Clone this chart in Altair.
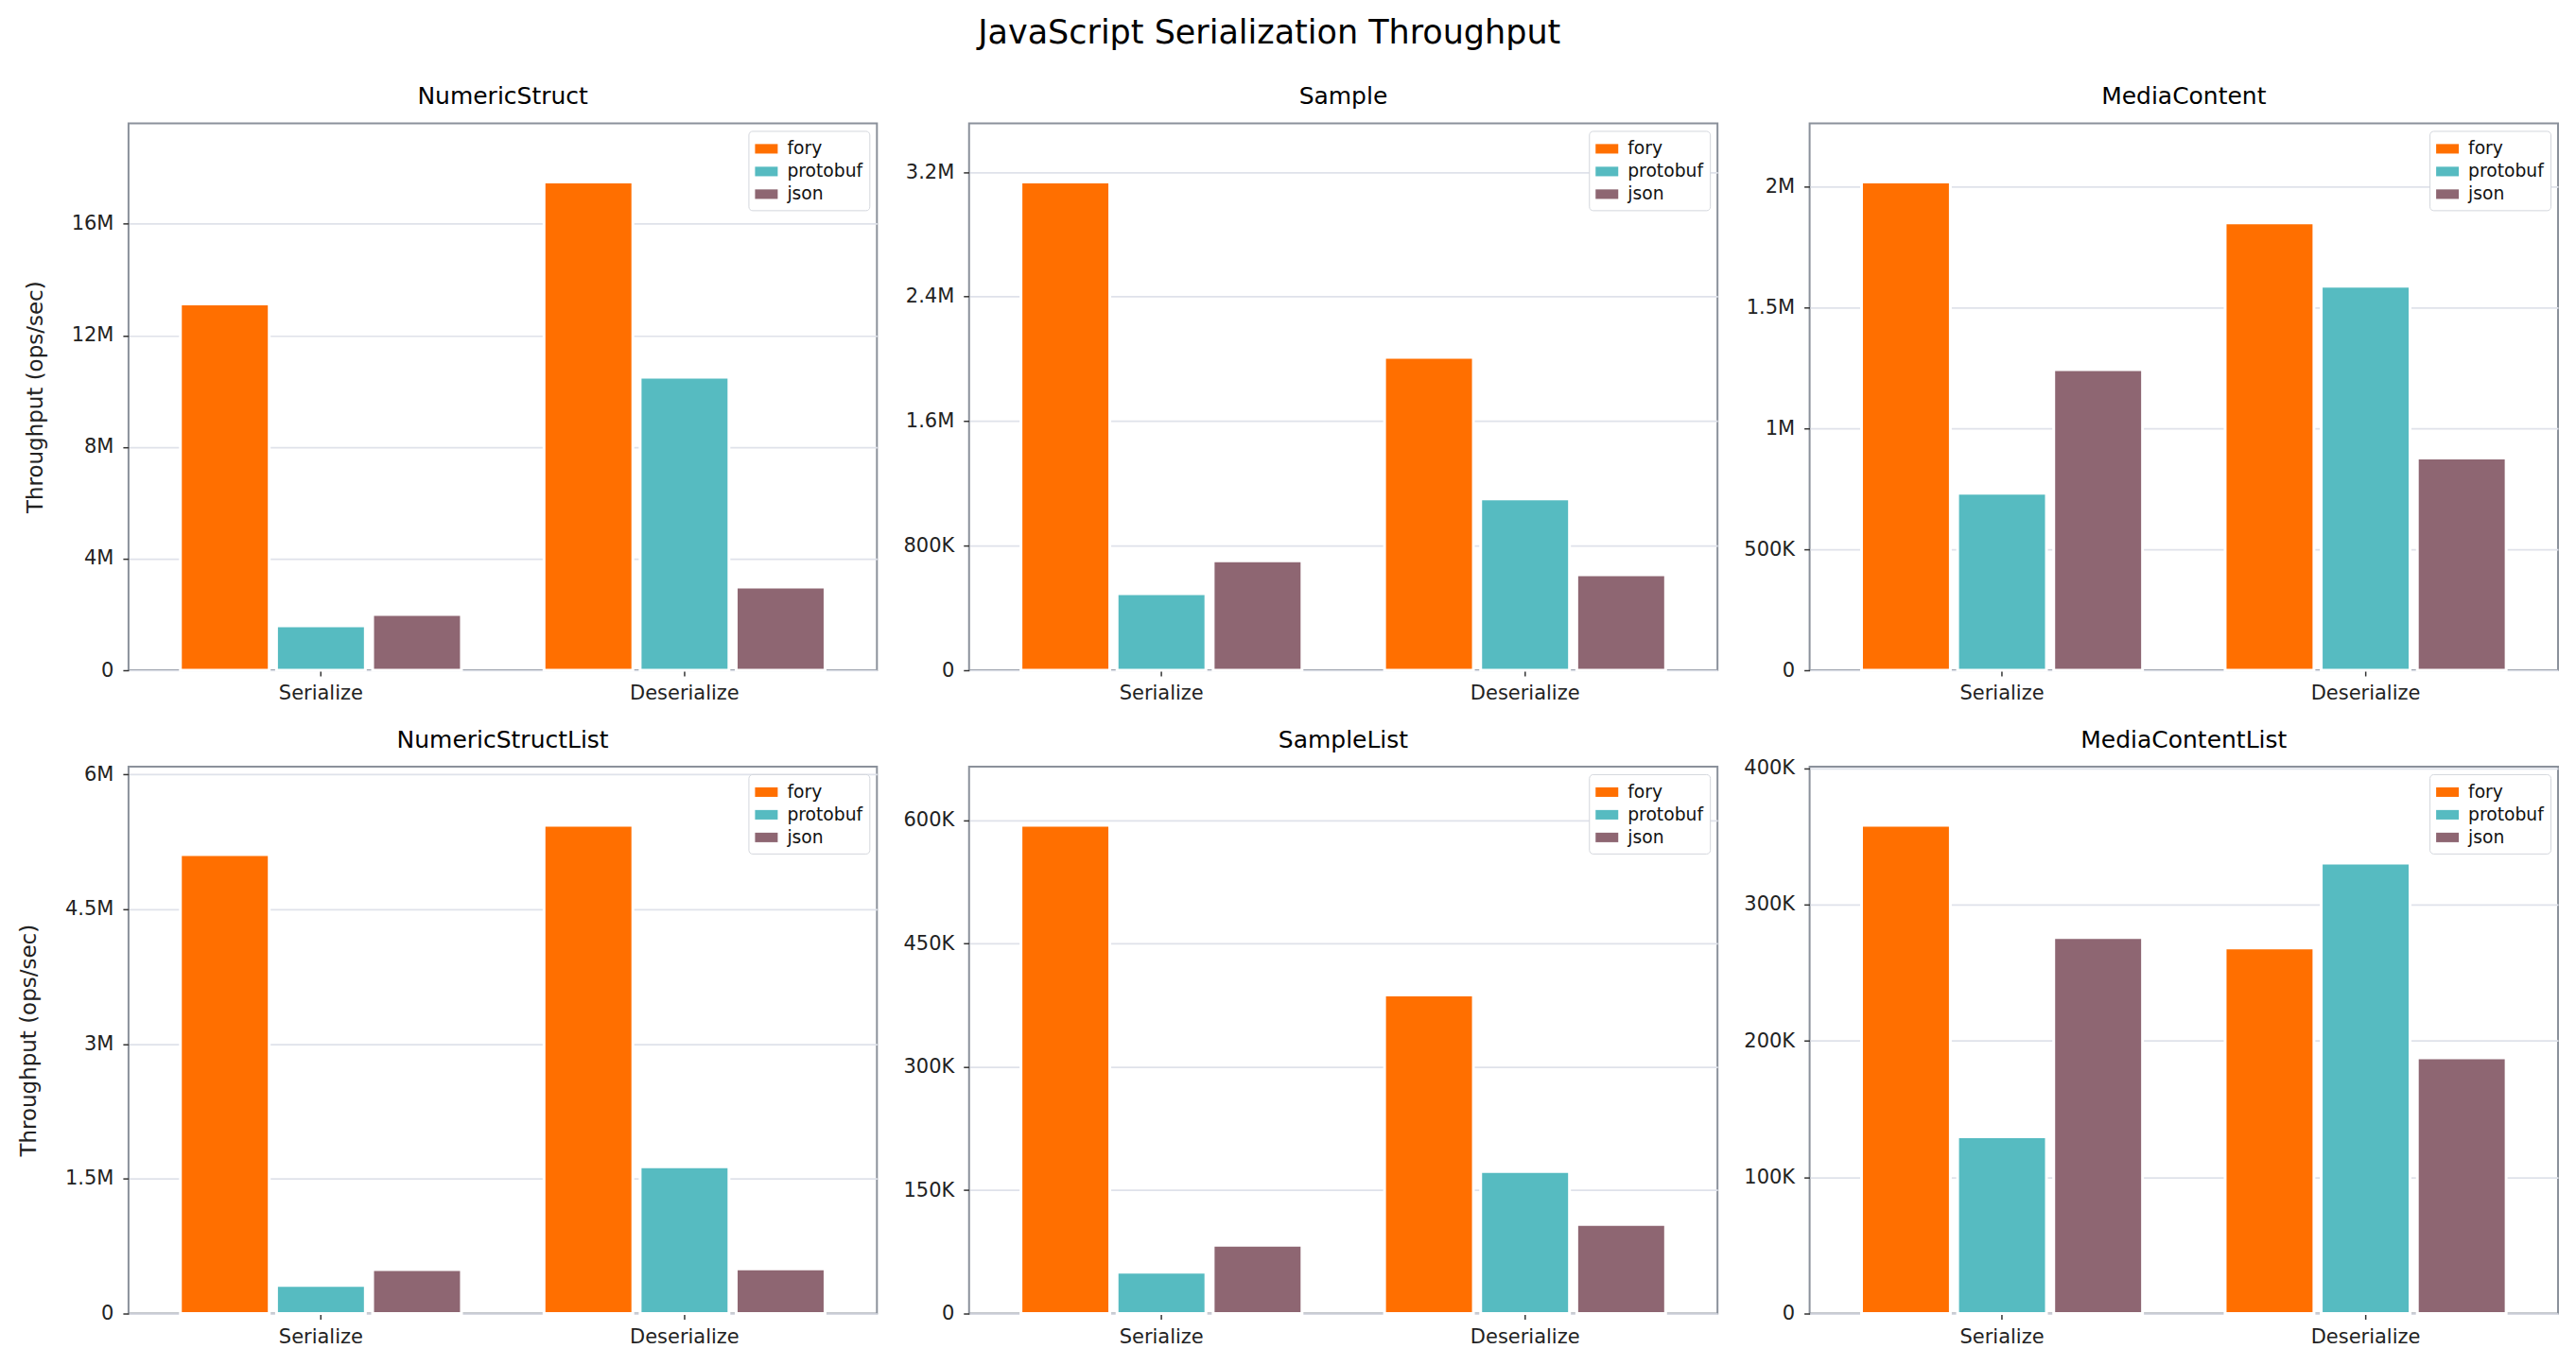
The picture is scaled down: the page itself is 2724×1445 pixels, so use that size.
import altair as alt
import pandas as pd

# ---- data ----
benchmarks = ["NumericStruct", "Sample", "MediaContent",
              "NumericStructList", "SampleList", "MediaContentList"]
operations = ["Serialize", "Deserialize"]
libraries = ["fory", "protobuf", "json"]
lib_colors = ["#FF6F00", "#56BBC1", "#8E6672"]

# values per benchmark: [Serialize, Deserialize] (ops/sec)
fory_vals = {
    "NumericStruct": [13130000, 17500000],
    "Sample": [3137000, 2010000],
    "MediaContent": [2019000, 1850000],
    "NumericStructList": [5107000, 5434000],
    "SampleList": [594200, 387600],
    "MediaContentList": [358300, 268300],
}
protobuf_vals = {
    "NumericStruct": [1590000, 10500000],
    "Sample": [492000, 1100000],
    "MediaContent": [732000, 1588000],
    "NumericStructList": [313000, 1633000],
    "SampleList": [50300, 172800],
    "MediaContentList": [129700, 330500],
}
json_vals = {
    "NumericStruct": [2000000, 2980000],
    "Sample": [703000, 614000],
    "MediaContent": [1243000, 877000],
    "NumericStructList": [489000, 498000],
    "SampleList": [83000, 108500],
    "MediaContentList": [275900, 187600],
}
tick_values = {
    "NumericStruct": [0, 4000000, 8000000, 12000000, 16000000],
    "Sample": [0, 800000, 1600000, 2400000, 3200000],
    "MediaContent": [0, 500000, 1000000, 1500000, 2000000],
    "NumericStructList": [0, 1500000, 3000000, 4500000, 6000000],
    "SampleList": [0, 150000, 300000, 450000, 600000],
    "MediaContentList": [0, 100000, 200000, 300000, 400000],
}
series = {"fory": fory_vals, "protobuf": protobuf_vals, "json": json_vals}

FONT = "DejaVu Sans"
W, H = 792, 579
label_expr = ("datum.value >= 1000000 ? format(datum.value / 1000000, '~g') + 'M' : "
              "(datum.value >= 1000 ? format(datum.value / 1000, '~g') + 'K' : '0')")


def panel(i, name):
    rows = []
    for lib in libraries:
        for j, op in enumerate(operations):
            rows.append({"op": op, "lib": lib, "value": series[lib][name][j]})
    df = pd.DataFrame(rows)
    ymax = max(r["value"] for r in rows) * 1.12
    yaxis_kwargs = dict(values=tick_values[name], labelExpr=label_expr)
    if i % 3 == 0:
        yaxis_kwargs["title"] = "Throughput (ops/sec)"
    else:
        yaxis_kwargs["title"] = None
    bars = alt.Chart(df).mark_bar(stroke="white", strokeWidth=3).encode(
        x=alt.X("op:N", sort=operations,
                scale=alt.Scale(paddingInner=0.2271, paddingOuter=0.1427),
                axis=alt.Axis(title=None, labelAngle=0, grid=False, bandPosition=0.5,
                              labelPadding=8)),
        xOffset=alt.XOffset("lib:N", sort=libraries,
                            scale=alt.Scale(paddingInner=0.0757, paddingOuter=0)),
        y=alt.Y("value:Q", scale=alt.Scale(domain=[0, ymax], nice=False, zero=True),
                axis=alt.Axis(**yaxis_kwargs)),
        color=alt.Color("lib:N", sort=libraries,
                        scale=alt.Scale(domain=libraries, range=lib_colors),
                        legend=alt.Legend(title=None, orient="top-right", offset=8,
                                          fillColor="white", strokeColor="#d3d6dc",
                                          cornerRadius=4, padding=7,
                                          labelFont=FONT, labelFontSize=18.75,
                                          labelColor="#111", labelOffset=10,
                                          rowPadding=2,
                                          symbolType="M-1,-0.42L1,-0.42L1,0.42L-1,0.42Z",
                                          symbolSize=576, symbolStrokeWidth=0)),
    )
    title = alt.Chart(pd.DataFrame({"name": [name]})).mark_text(
        font=FONT, fontSize=25, color="#000", baseline="alphabetic", align="center"
    ).encode(
        text="name:N", x=alt.value(W / 2), y=alt.value(-20)
    )
    return alt.layer(bars, title).properties(width=W, height=H)


panels = [panel(i, b) for i, b in enumerate(benchmarks)]

chart = alt.concat(
    *panels, columns=3, spacing={"row": 102, "column": 97.5}, bounds="flush"
).resolve_scale(
    color="independent"
).properties(
    title=alt.TitleParams("JavaScript Serialization Throughput", font=FONT,
                          fontSize=35, fontWeight="normal", color="#000",
                          anchor="middle", frame="bounds", dx=-20, offset=36),
    padding={"left": 10, "top": 10, "right": 10, "bottom": 10},
    background="white",
).configure_view(
    stroke="#8B919B", strokeWidth=2
).configure_axis(
    domain=False,
    labelFont=FONT, labelFontSize=21, labelColor="#222",
    titleFont=FONT, titleFontSize=23, titleColor="#222", titleFontWeight="normal",
    titlePadding=26,
    tickColor="#333", tickSize=6, tickWidth=1.5,
    gridColor="#DFE2EA", gridWidth=1.7,
    labelPadding=10,
)

chart.save("out.html", embed_options={"renderer": "svg", "actions": False})
